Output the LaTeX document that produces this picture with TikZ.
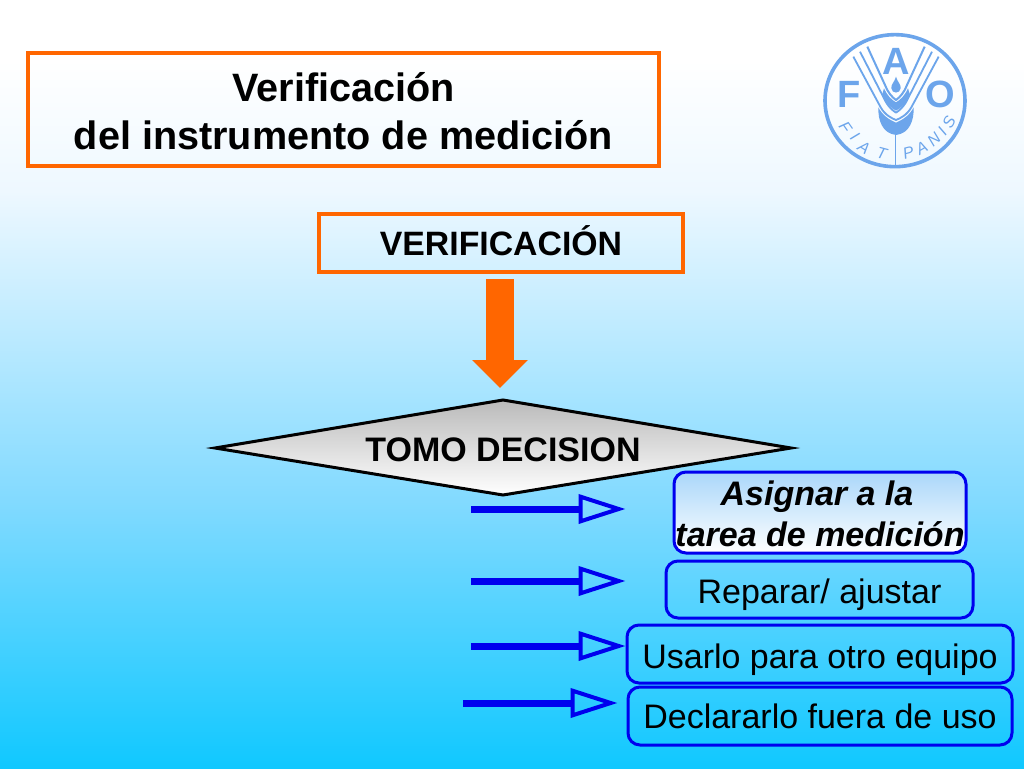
\documentclass[tikz,border=0pt]{standalone}
\usepackage{fontspec}
\setmainfont{Liberation Sans}
\usetikzlibrary{arrows.meta}
\definecolor{orangeline}{RGB}{255,102,0}
\definecolor{blueline}{RGB}{0,0,238}
\definecolor{logoblue}{RGB}{108,165,235}
\definecolor{asigntop}{RGB}{170,215,250}
\definecolor{bgA}{RGB}{16,200,255}
\definecolor{bgB}{RGB}{130,218,255}
\definecolor{bgC}{RGB}{238,248,255}
\definecolor{bgD}{RGB}{255,255,255}
\pgfdeclareverticalshading{slidebg}{100bp}{
  color(0bp)=(bgA);
  color(25bp)=(bgA);
  color(42.4bp)=(bgB);
  color(62.6bp)=(bgC);
  color(71.1bp)=(bgD);
  color(100bp)=(bgD)}
\tikzset{
  x=1pt,y=-1pt,
  orangebox/.style={draw=orangeline,line width=4pt,inner sep=0pt,align=center,font=\bfseries\fontsize{39.6}{48}\selectfont},
  bluebox/.style={draw=blueline,line width=3pt,rounded corners=12pt,inner sep=0pt,align=center,font=\fontsize{34}{40}\selectfont},
  blockarrow/.style={orangeline,line width=28pt,-{Triangle[length=28pt,width=54pt]}},
  thinarrow/.style={blueline,line width=7pt,-{Triangle[open,length=47pt,width=29pt,line width=4pt,fill=none]}},
  logoline/.style={logoblue,line cap=butt,line join=round},
  logoletter/.style={text=logoblue,inner sep=0pt,font=\bfseries\fontsize{38}{38}\selectfont},
  sealetter/.style={text=logoblue,inner sep=0pt,font=\itshape\fontsize{16}{16}\selectfont}
}
\begin{document}
\begin{tikzpicture}
\useasboundingbox (0,0) rectangle (1024,768);
\node[inner sep=0pt,minimum width=1024pt,minimum height=768pt,anchor=north west,shading=slidebg] (bg) at (0,0) {};

% title and first box
\node[orangebox,minimum width=631pt,minimum height=113pt] (title) at (343.5,109.5) {\rule{0pt}{33pt}Verificación\\del instrumento de medición};
\node[orangebox,minimum width=364pt,minimum height=58pt,text depth=4pt,font=\bfseries\fontsize{33.8}{40}\selectfont] (verif) at (501,243) {VERIFICACIÓN};

% decision diamond
\path[draw=black,line width=3pt,line join=miter,top color=black!27,bottom color=white]
  (215,448) -- (503,400) -- (791,448) -- (503,495) -- cycle;
\node[inner sep=0pt,font=\bfseries\fontsize{34}{40}\selectfont] (decide) at (503,450) {TOMO DECISION};
\coordinate (decidetop) at (503,400);

\draw[blockarrow,shorten <=5pt,shorten >=12pt] ([xshift=-1pt]verif.south) -- ([xshift=-1pt]verif.south |- decidetop);

% outcome boxes
\node[bluebox,minimum width=292pt,minimum height=81pt,top color=asigntop,bottom color=white,font=\bfseries\itshape\fontsize{34}{41}\selectfont] (b1) at (820,512.5) {\rule{0pt}{27pt}Asignar a la\hspace*{6pt}\\tarea de medición};
\node[bluebox,minimum width=307pt,minimum height=57pt,text height=28pt,text depth=0pt] (b2) at (819.5,589.5) {Reparar/ ajustar};
\node[bluebox,minimum width=386pt,minimum height=58pt,text height=28pt,text depth=0pt] (b3) at (820,654) {Usarlo para otro equipo};
\node[bluebox,minimum width=384pt,minimum height=58pt,text height=25pt,text depth=0pt] (b4) at (820,716) {Declararlo fuera de uso};

\coordinate (s1) at (471,509);
\coordinate (s2) at (471,581);
\coordinate (s3) at (471,646);
\coordinate (s4) at (463,703);
\draw[thinarrow,shorten >=47pt] (s1) -- (s1 -| b1.west);
\draw[thinarrow,shorten >=39pt] (s2) -- (s2 -| b2.west);
\draw[thinarrow,shorten >=0pt] (s3) -- (s3 -| b3.west);
\draw[thinarrow,shorten >=9pt] (s4) -- (s4 -| b4.west);

% FAO seal
\begin{scope}[shift={(810,20)},x=0.3333pt,y=-0.3333pt]
  \draw[logoline,line width=3.6pt] (255,242) ellipse [x radius=210,y radius=198];
  \draw[logoline,line width=1.8pt] (130,110) -- (212,262) .. controls (225,285) and (245,295) .. (258,300) .. controls (271,295) and (291,285) .. (304,262) -- (386,110);
  \draw[logoline,line width=1.8pt] (150,95) -- (222,235) .. controls (232,258) and (248,272) .. (258,278) .. controls (268,272) and (284,258) .. (294,235) -- (366,95);
  \draw[logoline,line width=2pt] (172,80) -- (225,195) .. controls (232,215) and (246,232) .. (258,240) .. controls (270,232) and (284,215) .. (291,195) -- (344,80);
  \fill[logoblue] (222,205) .. controls (230,225) and (245,240) .. (258,247) .. controls (271,240) and (286,225) .. (294,205) -- (300,225) .. controls (290,250) and (272,265) .. (258,272) .. controls (244,265) and (226,250) .. (216,225) -- cycle;
  \fill[logoblue] (205,262) .. controls (218,288) and (240,300) .. (258,308) .. controls (276,300) and (298,288) .. (311,262) .. controls (312,300) and (300,340) .. (258,345) .. controls (216,340) and (204,300) .. (205,262) -- cycle;
  \draw[logoline,line width=1.6pt] (257,340) -- (257,440);
  \fill[logoblue] (258,170) .. controls (262,185) and (274,195) .. (272,205) .. controls (270,222) and (246,222) .. (244,205) .. controls (242,195) and (254,185) .. (258,170) -- cycle;
  \node[logoletter] (logoA) at (258,125) {A};
  \node[logoletter] (logoF) at (117,224) {F};
  \node[logoletter] (logoO) at (392,224) {O};
  \node[sealetter,rotate=-55] (s-f) at (106,322) {F};
  \node[sealetter,rotate=-48] (s-i) at (135,350) {I};
  \node[sealetter,rotate=-32] (s-a) at (162,382) {A};
  \node[sealetter,rotate=-15] (s-t) at (215,400) {T};
  \node[sealetter,rotate=15] (s-p) at (295,398) {P};
  \node[sealetter,rotate=30] (s-b) at (335,385) {A};
  \node[sealetter,rotate=42] (s-n) at (372,358) {N};
  \node[sealetter,rotate=52] (s-j) at (397,335) {I};
  \node[sealetter,rotate=62] (s-s) at (417,308) {S};
\end{scope}
\end{tikzpicture}
\end{document}
